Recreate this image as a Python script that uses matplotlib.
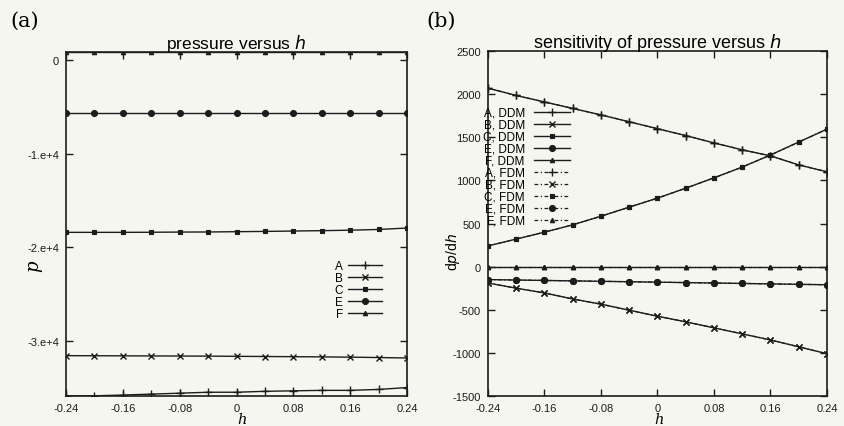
import matplotlib
matplotlib.use('Agg')
import matplotlib.pyplot as plt

# ---------------- data ----------------
h = [-0.24, -0.20, -0.16, -0.12, -0.08, -0.04, 0.0, 0.04, 0.08, 0.12, 0.16, 0.20, 0.24]

# panel (a): pressure p
p_A = [-35880, -35880, -35800, -35700, -35600, -35500, -35500, -35400, -35350, -35300, -35300, -35200, -35000]
p_B = [-31590, -31600, -31610, -31620, -31630, -31640, -31660, -31680, -31700, -31720, -31750, -31790, -31840]
p_C = [-18410, -18410, -18410, -18400, -18380, -18370, -18340, -18310, -18270, -18230, -18180, -18100, -17950]
p_E = [-5660, -5660, -5660, -5660, -5660, -5660, -5660, -5660, -5660, -5660, -5660, -5660, -5660]
p_F = [880, 880, 880, 880, 880, 880, 880, 880, 880, 880, 880, 880, 880]

# panel (b): dp/dh (DDM and FDM coincide)
dp_A = [2070, 1985, 1910, 1835, 1760, 1680, 1600, 1520, 1435, 1355, 1285, 1180, 1100]
dp_B = [-190, -250, -305, -375, -435, -505, -575, -640, -710, -780, -850, -930, -1010]
dp_C = [240, 320, 400, 485, 585, 690, 795, 910, 1030, 1155, 1295, 1445, 1595]
dp_E = [-150, -155, -160, -165, -170, -175, -180, -185, -190, -195, -200, -205, -210]
dp_F = [0, 0, 0, 0, 0, 0, 0, 0, 0, 0, 0, 0, 0]

series_names = ['A', 'B', 'C', 'E', 'F']
xticks = [-0.24, -0.16, -0.08, 0.0, 0.08, 0.16, 0.24]
xticklabels = ['-0.24', '-0.16', '-0.08', '0', '0.08', '0.16', '0.24']
a_yticks = [0, -10000, -20000, -30000]
a_yticklabels = ['0', '-1.e+4', '-2.e+4', '-3.e+4']
b_yticks = [2500, 2000, 1500, 1000, 500, 0, -500, -1000, -1500]
b_yticklabels = ['2500', '2000', '1500', '1000', '500', '0', '-500', '-1000', '-1500']

# ---------------- style ----------------
bg = '#f5f6f0'
ink = '#1c1c1c'
plt.rcParams['font.family'] = ['Liberation Sans', 'DejaVu Sans']
markers = {'A': dict(marker='+', ms=6, mew=1.0),
           'B': dict(marker='x', ms=4.5, mew=1.0),
           'C': dict(marker='s', ms=3.2, mew=0.8),
           'E': dict(marker='o', ms=4.3, mew=0.8),
           'F': dict(marker='^', ms=3.2, mew=0.8)}

fig = plt.figure(figsize=(8.45, 4.27), dpi=100, facecolor=bg)
axa = fig.add_axes([0.0781, 0.0703, 0.4036, 0.8063], facecolor=bg)
axb = fig.add_axes([0.5775, 0.0703, 0.4012, 0.8077], facecolor=bg)

def style_axes(ax):
    for s in ax.spines.values():
        s.set_linewidth(1.2)
        s.set_color(ink)
    ax.tick_params(direction='in', top=True, right=True, length=5, width=1.0,
                   colors=ink, labelsize=8, pad=5)
    ax.set_xlim(-0.24, 0.24)
    ax.set_xticks(xticks)
    ax.set_xticklabels(xticklabels)

# panel (a)
pa = {'A': p_A, 'B': p_B, 'C': p_C, 'E': p_E, 'F': p_F}
for n in series_names:
    axa.plot(h, pa[n], color=ink, lw=1.0, mfc=ink, mec=ink, label=n, **markers[n])
style_axes(axa)
axa.set_ylim(-35900, 900)
axa.set_yticks(a_yticks)
axa.set_yticklabels(a_yticklabels)
axa.set_title('pressure versus $h$', fontsize=12.5, pad=3)
axa.legend(loc='upper right', bbox_to_anchor=(382 / 845, 1 - 261 / 427),
           bbox_transform=fig.transFigure, frameon=False,
           markerfirst=False, fontsize=8.5, handlelength=2.9, handletextpad=0.4,
           labelspacing=0.0, borderpad=0, borderaxespad=0)

# panel (b)
pb = {'A': dp_A, 'B': dp_B, 'C': dp_C, 'E': dp_E, 'F': dp_F}
for n in series_names:
    axb.plot(h, pb[n], color=ink, lw=1.0, mfc=ink, mec=ink, label=n + ', DDM', **markers[n])
for n in series_names:
    axb.plot(h, pb[n], color=ink, lw=0.9, ls=(0, (3, 2, 1, 2)), mfc=ink, mec=ink,
             label=n + ', FDM', **markers[n])
style_axes(axb)
axb.set_ylim(-1500, 2500)
axb.set_yticks(b_yticks)
axb.set_yticklabels(b_yticklabels)
axb.set_title('sensitivity of pressure versus $h$', fontsize=13, pad=3)
axb.legend(loc='upper left', bbox_to_anchor=(483 / 845, 1 - 108 / 427),
           bbox_transform=fig.transFigure, frameon=False,
           markerfirst=False, fontsize=8.5, handlelength=3.0, handletextpad=0.8,
           labelspacing=0.0, borderpad=0, borderaxespad=0)

# axis labels and panel labels
fig.text(33 / 845, 1 - 266 / 427, 'p', fontsize=13, rotation=90, ha='center', va='center',
         family='DejaVu Serif', style='italic')
fig.text(242 / 845, 1 - 420 / 427, 'h', fontsize=10.5, ha='center', va='center',
         family='DejaVu Serif', style='italic')
fig.text(659 / 845, 1 - 420 / 427, 'h', fontsize=10.5, ha='center', va='center',
         family='DejaVu Serif', style='italic')
fig.text(453 / 845, 1 - 252 / 427, 'd$p$/d$h$', fontsize=10, rotation=90, ha='center', va='center')
fig.text(25 / 845, 1 - 21 / 427, '(a)', fontsize=15, ha='center', va='center', family='DejaVu Serif')
fig.text(441 / 845, 1 - 21 / 427, '(b)', fontsize=15, ha='center', va='center', family='DejaVu Serif')

fig.savefig('out.png', dpi=100, facecolor=bg)
